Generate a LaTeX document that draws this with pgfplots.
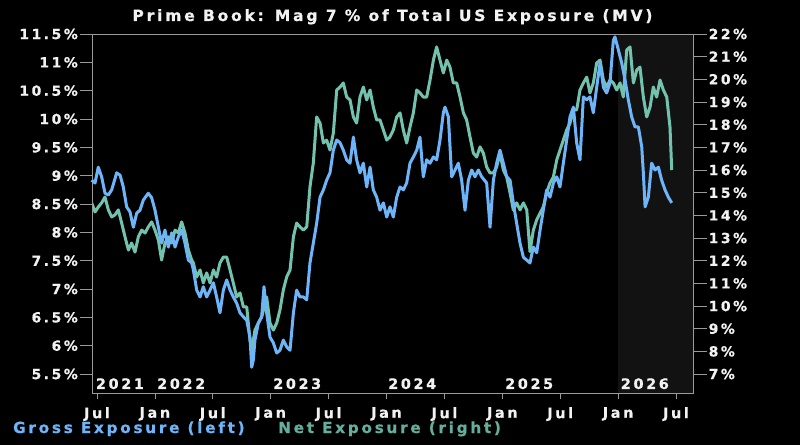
\documentclass[border=0pt]{standalone}
\usepackage{pgfplots}
\pgfplotsset{compat=1.18}
\usepackage{fontspec}
\setmainfont{DejaVu Sans}
\newfontfamily\heavy{DejaVu Sans Bold}[LetterSpace=18, FakeBold=0.6]
\definecolor{gross}{HTML}{6EB4F8}
\definecolor{net}{HTML}{72C2AE}
\definecolor{netleg}{HTML}{66AE9C}
\definecolor{axgray}{HTML}{9A9A9A}
\definecolor{txt}{HTML}{F2F2F2}
\definecolor{shadecol}{HTML}{121212}
\newcommand{\lbl}{\heavy\fontsize{14}{16}\selectfont}
\newcommand{\yrf}{\heavy\fontsize{14.5}{16}\selectfont}

\pgfplotstableread{
x y
2021.454 8.92
2021.483 8.87
2021.511 9.15
2021.540 8.98
2021.569 8.69
2021.598 8.66
2021.627 8.75
2021.670 9.05
2021.699 9.01
2021.727 8.80
2021.756 8.45
2021.785 8.36
2021.814 8.09
2021.843 8.34
2021.871 8.39
2021.900 8.57
2021.943 8.69
2021.972 8.61
2022.001 8.39
2022.030 8.09
2022.058 7.81
2022.087 8.04
2022.116 7.74
2022.145 7.99
2022.174 7.74
2022.202 7.92
2022.231 8.04
2022.260 7.81
2022.289 7.51
2022.318 7.46
2022.332 7.34
2022.361 6.98
2022.390 6.86
2022.418 7.04
2022.447 6.86
2022.476 6.98
2022.505 7.11
2022.533 6.86
2022.562 6.58
2022.591 6.98
2022.620 7.16
2022.649 6.98
2022.677 6.86
2022.706 6.75
2022.735 6.58
2022.764 6.51
2022.793 6.45
2022.821 6.15
2022.836 5.62
2022.850 5.75
2022.864 6.10
2022.893 6.40
2022.922 6.51
2022.942 7.04
2022.965 6.58
2022.994 6.15
2023.023 6.05
2023.052 5.87
2023.080 5.92
2023.109 6.10
2023.138 5.98
2023.167 5.92
2023.196 6.58
2023.224 6.98
2023.253 6.86
2023.282 6.86
2023.311 6.81
2023.339 7.46
2023.368 7.81
2023.397 8.16
2023.426 8.62
2023.455 8.75
2023.483 8.92
2023.512 9.05
2023.541 9.45
2023.570 9.63
2023.599 9.58
2023.627 9.45
2023.656 9.28
2023.685 9.22
2023.714 9.68
2023.742 9.28
2023.771 9.05
2023.800 9.22
2023.829 8.80
2023.858 9.15
2023.886 8.75
2023.915 8.62
2023.944 8.39
2023.973 8.52
2024.002 8.27
2024.030 8.45
2024.059 8.27
2024.088 8.62
2024.117 8.80
2024.145 8.75
2024.174 8.87
2024.203 9.22
2024.232 9.33
2024.261 9.45
2024.289 9.68
2024.318 8.98
2024.347 9.28
2024.376 9.22
2024.405 9.33
2024.433 9.28
2024.462 9.63
2024.491 10.11
2024.505 10.21
2024.534 10.04
2024.563 8.98
2024.592 9.10
2024.620 9.22
2024.649 8.92
2024.678 8.39
2024.707 8.92
2024.736 9.10
2024.764 8.98
2024.793 9.10
2024.822 8.98
2024.865 8.87
2024.894 8.09
2024.923 8.92
2024.951 9.22
2024.980 9.45
2025.009 9.22
2025.038 8.98
2025.067 8.92
2025.095 8.52
2025.124 8.16
2025.153 7.81
2025.182 7.56
2025.211 7.51
2025.239 7.46
2025.268 7.74
2025.297 7.64
2025.326 8.04
2025.354 8.39
2025.383 8.75
2025.412 8.62
2025.441 8.87
2025.470 8.98
2025.498 8.80
2025.527 9.22
2025.556 9.63
2025.585 10.04
2025.614 10.21
2025.642 9.58
2025.671 9.28
2025.700 10.39
2025.729 10.34
2025.757 10.39
2025.786 10.11
2025.815 10.56
2025.844 10.99
2025.873 10.56
2025.901 10.46
2025.930 10.64
2025.959 11.39
2025.973 11.45
2026.002 11.22
2026.031 10.99
2026.060 10.69
2026.088 10.34
2026.117 10.04
2026.146 9.86
2026.175 9.86
2026.204 9.51
2026.218 9.05
2026.233 8.45
2026.261 8.62
2026.290 9.22
2026.319 9.10
2026.348 9.15
2026.376 8.92
2026.405 8.75
2026.434 8.62
2026.463 8.52
}\grosstable

\pgfplotstableread{
x y
2021.454 14.55
2021.483 14.15
2021.511 14.37
2021.540 14.55
2021.569 14.81
2021.598 14.24
2021.627 13.93
2021.655 14.02
2021.684 14.24
2021.713 13.66
2021.742 13.05
2021.771 12.47
2021.799 12.78
2021.828 12.38
2021.857 13.05
2021.886 13.35
2021.915 13.22
2021.943 13.49
2021.972 13.71
2022.001 13.35
2022.030 12.91
2022.058 12.03
2022.087 12.78
2022.116 13.05
2022.145 12.78
2022.174 13.35
2022.202 13.22
2022.231 13.71
2022.260 13.22
2022.289 12.47
2022.318 12.03
2022.332 11.90
2022.361 11.28
2022.390 11.59
2022.418 11.02
2022.447 11.46
2022.476 11.02
2022.505 11.59
2022.533 11.28
2022.562 11.90
2022.591 12.16
2022.620 12.16
2022.649 11.59
2022.677 11.02
2022.706 10.40
2022.735 10.58
2022.764 9.96
2022.793 9.96
2022.821 8.50
2022.836 8.06
2022.864 8.94
2022.893 9.25
2022.922 9.52
2022.965 10.40
2022.994 9.25
2023.023 8.94
2023.052 9.25
2023.080 9.83
2023.109 10.71
2023.138 11.28
2023.167 11.59
2023.196 13.05
2023.224 13.66
2023.253 13.49
2023.282 13.35
2023.311 13.49
2023.339 15.25
2023.368 16.31
2023.397 18.34
2023.426 18.07
2023.455 17.19
2023.483 17.32
2023.512 16.88
2023.541 17.63
2023.570 19.53
2023.599 19.66
2023.627 19.84
2023.656 19.22
2023.685 19.09
2023.714 18.34
2023.742 18.07
2023.771 19.22
2023.800 19.66
2023.829 19.09
2023.858 19.53
2023.886 18.78
2023.915 18.21
2023.944 18.21
2023.973 17.77
2024.002 17.32
2024.030 17.46
2024.059 17.77
2024.088 18.34
2024.117 18.52
2024.145 17.77
2024.174 17.19
2024.203 17.90
2024.232 18.52
2024.261 19.53
2024.289 19.40
2024.318 19.22
2024.347 19.22
2024.376 19.97
2024.405 20.85
2024.433 21.43
2024.462 20.85
2024.491 20.28
2024.520 20.85
2024.548 20.54
2024.577 19.84
2024.606 19.84
2024.635 19.22
2024.664 18.52
2024.692 18.21
2024.721 17.46
2024.750 16.75
2024.779 16.57
2024.808 17.02
2024.836 16.75
2024.865 16.13
2024.894 15.87
2024.923 15.87
2024.951 16.13
2024.980 16.75
2025.009 16.00
2025.038 15.69
2025.067 14.99
2025.095 14.24
2025.124 14.55
2025.153 14.24
2025.182 14.55
2025.211 14.24
2025.239 12.40
2025.268 13.35
2025.297 13.80
2025.326 14.10
2025.354 14.37
2025.383 14.99
2025.412 15.43
2025.441 15.69
2025.470 16.44
2025.498 16.88
2025.527 17.32
2025.556 17.77
2025.585 18.07
2025.614 18.65
2025.642 18.65
2025.671 19.53
2025.700 19.84
2025.729 20.10
2025.757 19.40
2025.786 19.84
2025.815 20.72
2025.844 20.85
2025.873 19.97
2025.901 19.66
2025.930 19.97
2025.959 19.84
2025.988 19.53
2026.017 19.84
2026.045 19.22
2026.074 21.29
2026.103 21.43
2026.132 19.84
2026.161 20.41
2026.189 20.54
2026.218 19.22
2026.247 18.34
2026.276 18.78
2026.304 19.66
2026.333 19.22
2026.362 19.97
2026.391 19.53
2026.420 19.22
2026.448 17.90
2026.463 16.00
}\nettable

\begin{document}
\begin{tikzpicture}
\useasboundingbox (-92bp,-52bp) rectangle (708bp,393bp);
\fill[black] (-92bp,-52bp) rectangle (708bp,393bp);

% right axis (net exposure), drawn first so gross lies on top
\begin{axis}[
  at={(0,0)}, anchor=south west, scale only axis,
  width=601bp, height=359bp,
  xmin=2021.4568, xmax=2026.6468, ymin=6.164, ymax=22,
  axis x line=none, axis y line*=right,
  axis line style={axgray, line width=0.8bp},
  tick style={axgray, line width=0.8bp},
  tick align=outside, major tick length=14bp,
  ytick={7,8,9,10,11,12,13,14,15,16,17,18,19,20,21,22},
  yticklabels={7\%,8\%,9\%,10\%,11\%,12\%,13\%,14\%,15\%,16\%,17\%,18\%,19\%,20\%,21\%,22\%},
  yticklabel style={font=\lbl, text=txt, inner sep=1.5bp},
]
\fill[shadecol] (axis cs:2026.0,6.164) rectangle (axis cs:2026.6468,22);
\addplot[net, line width=3bp, line join=round] table[x=x,y=y] {\nettable};
\end{axis}

% left axis (gross exposure)
\begin{axis}[
  at={(0,0)}, anchor=south west, scale only axis,
  width=601bp, height=359bp,
  xmin=2021.4568, xmax=2026.6468, ymin=5.165, ymax=11.5,
  axis line style={axgray, line width=0.8bp},
  tick style={axgray, line width=0.8bp},
  tick align=outside, major tick length=12bp,
  xtick pos=bottom, ytick pos=left,
  xtick style={/pgfplots/major tick length=6bp},
  xtick={2021.5,2022,2022.5,2023,2023.5,2024,2024.5,2025,2025.5,2026,2026.5},
  xticklabels={Jul,Jan,Jul,Jan,Jul,Jan,Jul,Jan,Jul,Jan,Jul},
  ytick={5.5,6,6.5,7,7.5,8,8.5,9,9.5,10,10.5,11,11.5},
  yticklabels={5.5\%,6\%,6.5\%,7\%,7.5\%,8\%,8.5\%,9\%,9.5\%,10\%,10.5\%,11\%,11.5\%},
  yticklabel style={font=\lbl, text=txt, inner sep=2bp},
  xticklabel style={font=\yrf, text=txt, inner sep=2bp},
  clip=false,
]
\addplot[gross, line width=3bp, line join=round] table[x=x,y=y] {\grosstable};
\node[anchor=base west, inner sep=0, text=txt, font=\yrf] at (axis cs:2021.489,5.236) {2021};
\node[anchor=base west, inner sep=0, text=txt, font=\yrf] at (axis cs:2022.018,5.236) {2022};
\node[anchor=base west, inner sep=0, text=txt, font=\yrf] at (axis cs:2023.020,5.236) {2023};
\node[anchor=base west, inner sep=0, text=txt, font=\yrf] at (axis cs:2024.013,5.236) {2024};
\node[anchor=base west, inner sep=0, text=txt, font=\yrf] at (axis cs:2025.023,5.236) {2025};
\node[anchor=base west, inner sep=0, text=txt, font=\yrf] at (axis cs:2026.022,5.236) {2026};
\end{axis}

\node[anchor=base, inner sep=0, text=txt, font=\heavy\fontsize{15.6}{17}\selectfont] at (300.5bp,372bp) {Prime Book: Mag 7 \% of Total US Exposure (MV)};
\node[anchor=base west, inner sep=0, text=gross, font=\heavy\fontsize{15.3}{17}\selectfont] at (-79bp,-40bp) {Gross Exposure (left)};
\node[anchor=base west, inner sep=0, text=netleg, font=\heavy\fontsize{15.3}{17}\selectfont] at (186bp,-40bp) {Net Exposure (right)};
\end{tikzpicture}
\end{document}
